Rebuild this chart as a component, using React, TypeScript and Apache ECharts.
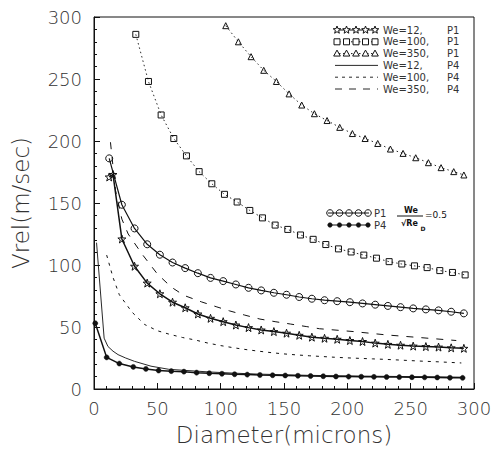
import React, { useEffect, useRef } from "react";
import * as echarts from "echarts";

// ---- data ----
const xTicks = [0, 50, 100, 150, 200, 250, 300];

const we12P1: number[][] = [
  [12, 171], [15, 173], [22, 121], [32, 99], [42, 85.4], [52, 76.8], [62, 70], [72, 65.5],
  [82, 60.5], [92, 57], [102, 54.3], [112, 51.6], [122, 49.5], [132, 47.6], [142, 46.3],
  [152, 45], [162, 43.3], [172, 41.8], [182, 40.9], [192, 40.1], [202, 39.1], [212, 38.3],
  [222, 37], [232, 36], [242, 35.3], [252, 34.6], [262, 34.2], [272, 33.8], [282, 33.2], [292, 32.8],
];

const we100P1: number[][] = [
  [33, 286], [43, 248], [53, 221], [63, 202], [73, 188], [83, 175.3], [93, 165.5], [103, 157],
  [113, 150.8], [123, 144], [133, 138], [143, 132.2], [153, 128.7], [163, 124.2], [173, 120.7],
  [183, 116.5], [193, 113], [203, 110.5], [213, 108], [223, 105.5], [233, 102.7], [243, 100.8],
  [253, 99.3], [263, 97.9], [273, 95.5], [283, 94], [293, 92],
];

const we350P1: number[][] = [
  [104, 293], [114, 280], [124, 268], [134, 257], [144, 248], [154, 238], [164, 229], [174, 222],
  [184, 216.5], [194, 211], [204, 206], [214, 202], [224, 198], [234, 193.5], [244, 190],
  [254, 186.5], [264, 182.5], [274, 178.5], [284, 175.3], [292, 172.6],
];

const we12P4: number[][] = [
  [2, 118], [8, 41], [11, 34.3], [15, 30.5], [19, 27.7], [25, 25], [32, 22.3], [45, 18.4],
  [59, 15.9], [72, 15], [90, 13.8], [110, 12.8], [130, 12], [150, 11.5], [170, 11], [190, 10.7],
  [210, 10.4], [230, 10.2], [250, 10], [270, 9.8], [292, 9.5],
];

const we100P4: number[][] = [
  [10, 108], [15, 90], [20, 76], [30, 62], [40, 52], [50, 47], [60, 44], [70, 41.5], [80, 39.5],
  [90, 37], [100, 35], [110, 33.3], [120, 31.8], [130, 30.5], [140, 29.3], [150, 28.3], [160, 27.5],
  [170, 26.8], [180, 26.2], [190, 25.6], [200, 25.1], [210, 24.7], [220, 24.3], [230, 23.9],
  [240, 23.4], [250, 22.9], [260, 22.4], [270, 22], [280, 21.5], [290, 21],
];

const we350P4: number[][] = [
  [13, 199], [17, 160], [22, 137], [27, 125], [38, 108.7], [50, 92.8], [61, 82.2], [71, 75.5],
  [85, 70.2], [97, 66.2], [107, 63], [119, 59.6], [131, 56.4], [143, 54.3], [155, 52.4],
  [168, 50.3], [178, 48.6], [205, 46.3], [231, 43.6], [257, 41.5], [286, 39.1],
];

const ratioP1: number[][] = [
  [12, 186], [22, 148.6], [32, 129.5], [42, 116.7], [52, 108.3], [62, 102], [72, 97.5], [82, 93.4],
  [92, 89.6], [102, 87], [112, 84.3], [122, 81.6], [132, 79.5], [142, 77.6], [152, 76], [162, 74.2],
  [172, 72.8], [182, 71.6], [192, 70.8], [202, 70], [212, 69], [222, 68], [232, 67], [242, 66],
  [252, 65], [262, 64.2], [272, 63.4], [282, 62.3], [292, 61],
];

const ratioP4: number[][] = [
  [1, 53], [10, 25.5], [20, 20.5], [31, 17.8], [41, 16.2], [51, 14.9], [61, 14.4], [71, 14],
  [81, 13.2], [91, 12.7], [101, 12.3], [111, 11.9], [121, 11.6], [131, 11.3], [141, 11.1],
  [151, 10.9], [161, 10.7], [171, 10.5], [181, 10.3], [191, 10.1], [201, 10], [211, 9.9],
  [221, 9.8], [231, 9.7], [241, 9.6], [251, 9.5], [261, 9.4], [271, 9.3], [281, 9.1], [291, 9.0],
];

const legend1 = [
  { we: "We=12,", p: "P1" },
  { we: "We=100,", p: "P1" },
  { we: "We=350,", p: "P1" },
  { we: "We=12,", p: "P4" },
  { we: "We=100,", p: "P4" },
  { we: "We=350,", p: "P4" },
];
const legend2 = ["P1", "P4"];

// ---- styling ----
const INK = "#111";
const TXT = "#333";
const FONT = "DejaVu Sans";
const STAR = "path://M0,-10L2.35,-3.24L9.51,-3.09L3.8,1.24L5.88,8.09L0,4L-5.88,8.09L-3.8,1.24L-9.51,-3.09L-2.35,-3.24Z";
const HOLLOW = "rgba(0,0,0,0)";

function starPts(cx: number, cy: number, r: number): number[][] {
  const pts: number[][] = [];
  for (let i = 0; i < 10; i++) {
    const a = -Math.PI / 2 + (i * Math.PI) / 5;
    const rr = i % 2 === 0 ? r : r * 0.42;
    pts.push([cx + rr * Math.cos(a), cy + rr * Math.sin(a)]);
  }
  return pts;
}
function triPts(cx: number, cy: number, r: number): number[][] {
  return [
    [cx, cy - r],
    [cx + r * 0.95, cy + r * 0.7],
    [cx - r * 0.95, cy + r * 0.7],
  ];
}

function buildLegend(): any[] {
  const els: any[] = [];
  const rows = [30, 41.8, 53.6, 65.4, 77.2, 89];
  const mx = [337, 346.5, 356, 365.5, 375];
  const f = `10px "${FONT}"`;
  rows.forEach((y, i) => {
    const lineStyle: any = { stroke: INK, lineWidth: i < 3 ? 1 : 0.9 };
    if (i === 1 || i === 2) lineStyle.lineDash = [1.5, 2.5];
    if (i === 4) lineStyle.lineDash = [3, 4];
    if (i === 5) lineStyle.lineDash = [7, 7];
    els.push({ type: "line", shape: { x1: 335, y1: y, x2: 378, y2: y }, style: lineStyle, silent: true });
    if (i === 0) mx.forEach((x) => els.push({ type: "polygon", shape: { points: starPts(x, y, 4) }, style: { fill: "#fff", stroke: INK, lineWidth: 1 } }));
    if (i === 1) mx.forEach((x) => els.push({ type: "rect", shape: { x: x - 3, y: y - 3, width: 6, height: 6 }, style: { fill: "#fff", stroke: INK, lineWidth: 1 } }));
    if (i === 2) mx.forEach((x) => els.push({ type: "polygon", shape: { points: triPts(x, y, 3.5) }, style: { fill: "#fff", stroke: INK, lineWidth: 1 } }));
    els.push({ type: "text", x: 383, y, style: { text: legend1[i].we, font: f, fill: TXT, verticalAlign: "middle" } });
    els.push({ type: "text", x: 447, y, style: { text: legend1[i].p, font: f, fill: TXT, verticalAlign: "middle" } });
  });
  const rows2 = [213, 225];
  const mx2 = [330, 339.5, 349, 358.5, 368];
  rows2.forEach((y, i) => {
    els.push({ type: "line", shape: { x1: 328, y1: y, x2: 369, y2: y }, style: { stroke: INK, lineWidth: 1 } });
    mx2.forEach((x) =>
      els.push({ type: "circle", shape: { cx: x, cy: y, r: i === 0 ? 3.3 : 2.3 }, style: i === 0 ? { fill: "rgba(0,0,0,0)", stroke: INK, lineWidth: 1 } : { fill: INK, stroke: INK, lineWidth: 0.5 } })
    );
    els.push({ type: "text", x: 374, y, style: { text: legend2[i], font: f, fill: TXT, verticalAlign: "middle" } });
  });
  els.push({ type: "text", x: 411, y: 214, style: { text: "We", font: `bold 8px "${FONT}"`, fill: INK, align: "center", verticalAlign: "bottom" } });
  els.push({ type: "line", shape: { x1: 397, y1: 216, x2: 423, y2: 216 }, style: { stroke: INK, lineWidth: 1 } });
  els.push({ type: "text", x: 401, y: 223, style: { text: "√Re", font: `bold 8px "${FONT}"`, fill: INK, verticalAlign: "middle" } });
  els.push({ type: "text", x: 420.5, y: 228, style: { text: "D", font: `bold 6px "${FONT}"`, fill: INK, verticalAlign: "middle" } });
  els.push({ type: "text", x: 425, y: 214.5, style: { text: "=0.5", font: `9px "${FONT}"`, fill: INK, verticalAlign: "middle" } });
  return els;
}

function lineSeries(name: string, data: number[][], opts: any): any {
  return {
    name,
    type: "line",
    data,
    smooth: false,
    symbol: opts.symbol || "none",
    symbolSize: opts.symbolSize || 6,
    showSymbol: !!opts.symbol,
    lineStyle: { color: INK, width: opts.width || 1, type: opts.dash || "solid" },
    itemStyle: opts.itemStyle || { color: HOLLOW, borderColor: INK, borderWidth: 1 },
    z: opts.z || 2,
    silent: true,
  };
}

export default function App() {
  const ref = useRef<HTMLDivElement>(null);
  useEffect(() => {
    document.body.style.margin = "0";
    const chart = echarts.init(ref.current!, null, { renderer: "svg" });
    const axisCommon = {
      type: "value",
      min: 0,
      max: 300,
      interval: 50,
      axisLine: { show: true, lineStyle: { color: INK, width: 1 } },
      axisTick: { show: true, inside: true, length: 6, lineStyle: { color: INK, width: 1 } },
      minorTick: { show: true, splitNumber: 5, length: 3, lineStyle: { color: INK, width: 1 } },
      splitLine: { show: false },
      axisLabel: { color: TXT, fontSize: 18, fontFamily: FONT, fontWeight: 300 },
      nameLocation: "middle",
      nameTextStyle: { color: TXT, fontSize: 23, fontFamily: FONT, fontWeight: 300 },
    };
    chart.setOption({
      animation: false,
      backgroundColor: "#fff",
      grid: { left: 94, right: 25, top: 17, bottom: 58, show: true, borderColor: INK, borderWidth: 1, backgroundColor: "transparent" },
      xAxis: {
        ...axisCommon,
        name: "Diameter(microns)",
        nameGap: 34,
        axisLabel: { ...axisCommon.axisLabel, margin: 10, customValues: xTicks },
      },
      yAxis: {
        ...axisCommon,
        name: "Vrel(m/sec)",
        nameGap: 62,
        axisLabel: { ...axisCommon.axisLabel, margin: 12 },
      },
      series: [
        lineSeries("We=12, P1", we12P1, { symbol: STAR, symbolSize: 8, width: 1.5, z: 4 }),
        lineSeries("We=100, P1", we100P1, { symbol: "rect", symbolSize: 6, width: 0.9, dash: [1.5, 3] }),
        lineSeries("We=350, P1", we350P1, { symbol: "triangle", symbolSize: 6, width: 0.9, dash: [1.5, 3] }),
        lineSeries("We=12, P4", we12P4, { width: 0.9 }),
        lineSeries("We=100, P4", we100P4, { width: 1, dash: [3, 5] }),
        lineSeries("We=350, P4", we350P4, { width: 1, dash: [7, 8] }),
        lineSeries("P1 We/sqrt(Re)=0.5", ratioP1, { symbol: "circle", symbolSize: 7, width: 1.2, z: 4 }),
        lineSeries("P4 We/sqrt(Re)=0.5", ratioP4, { symbol: "circle", symbolSize: 5, width: 1.5, z: 4, itemStyle: { color: INK, borderColor: INK, borderWidth: 0.5 } }),
      ],
      graphic: buildLegend(),
    });
    return () => chart.dispose();
  }, []);
  return <div ref={ref} style={{ width: 499, height: 451 }} />;
}
